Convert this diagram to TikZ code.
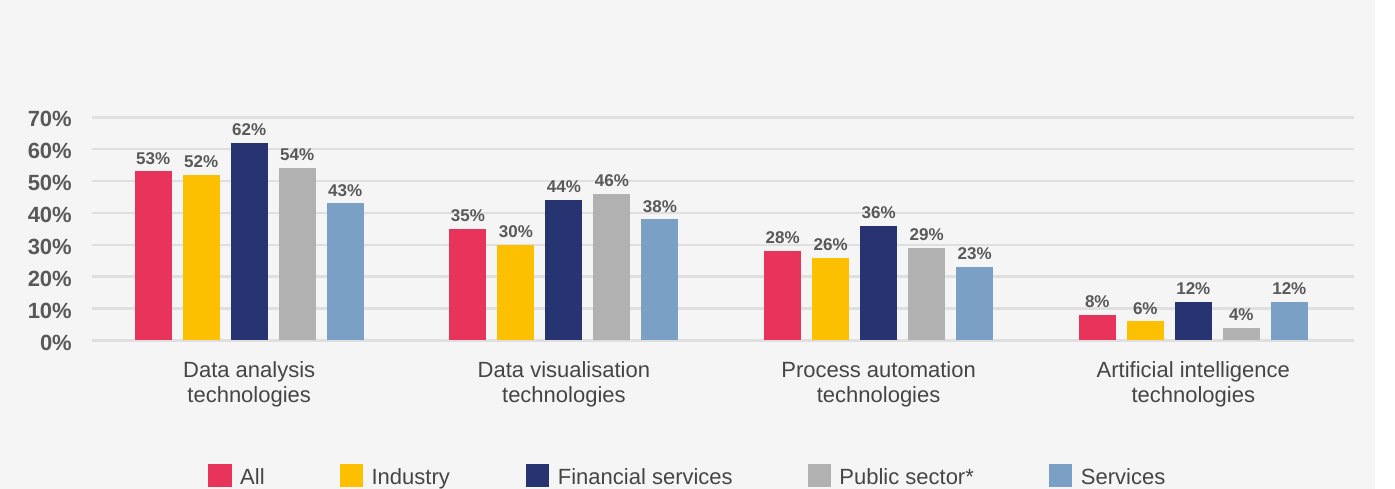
\documentclass[tikz,border=0pt]{standalone}
\usepackage{fontspec}
\setmainfont{Liberation Sans}
\definecolor{cAll}{HTML}{E8345A}
\definecolor{cIndustry}{HTML}{FDC000}
\definecolor{cFinancial}{HTML}{283372}
\definecolor{cPublic}{HTML}{B1B1B1}
\definecolor{cServices}{HTML}{7BA0C6}
\definecolor{bggray}{HTML}{F5F5F5}
\definecolor{gridgray}{HTML}{DFDFDF}
\definecolor{txtbold}{HTML}{595959}
\definecolor{txtcat}{HTML}{454545}
\tikzset{
	ticklabel/.style={anchor=east, inner sep=0pt, font=\fontsize{22}{24}\selectfont\bfseries, text=txtbold},
	vallabel/.style={anchor=base, inner sep=0pt, font=\fontsize{17}{20}\selectfont\bfseries, text=txtbold},
	catlabel/.style={anchor=base, align=center, inner sep=0pt, font=\fontsize{22}{25}\selectfont, text=txtcat},
	legtext/.style={anchor=base west, inner sep=0pt, font=\fontsize{22}{24}\selectfont, text=txtcat},
	gridline/.style={draw=gridgray, line width=2.5pt},
}
\begin{document}
\begin{tikzpicture}[x=1pt, y=1pt]
	\useasboundingbox (0, 0) rectangle (1395, 489);
	\fill[bggray] (0, 0) rectangle (1375, 489);
	\foreach \k in {0,...,7}{
		\draw[gridline] (92, 148.5+31.89*\k) -- (1354, 148.5+31.89*\k);
		\pgfmathtruncatemacro\p{10*\k}
		\node[ticklabel] (tick\k) at (72, 146.5+31.89*\k) {\p\%};
	}
	\foreach \g/\a/\b/\c/\d/\e in {0/53/52/62/54/43, 1/35/30/44/46/38, 2/28/26/36/29/23, 3/8/6/12/4/12}{
		\foreach \i/\v/\col in {0/\a/cAll, 1/\b/cIndustry, 2/\c/cFinancial, 3/\d/cPublic, 4/\e/cServices}{
			\pgfmathsetmacro\xl{134.7+314.7*\g+48*\i}
			\fill[\col] (\xl, 148.5) rectangle ++(37, \v*3.189);
			\node[vallabel] (val\g\i) at (\xl+18.5, 148.5+\v*3.189+7.3) {\v\%};
		}
	}
	\foreach \g/\txt in {0/{Data analysis\\technologies}, 1/{Data visualisation\\technologies}, 2/{Process automation\\technologies}, 3/{Artificial intelligence\\technologies}}
		\node[catlabel] (cat\g) at (134.7+314.7*\g+114.5, 86) {\txt};
	\foreach \x/\col/\txt [count=\n] in {208.3/cAll/All, 339.7/cIndustry/Industry, 526/cFinancial/Financial services, 807.5/cPublic/Public sector*, 1049/cServices/Services}{
		\fill[\col] (\x, 2.3) rectangle ++(23.4, 22.7);
		\node[legtext] (leg\n) at (\x+31.7, 4.7) {\txt};
	}
\end{tikzpicture}
\end{document}
